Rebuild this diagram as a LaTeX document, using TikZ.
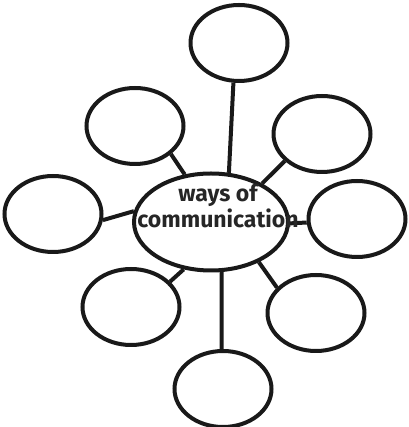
\documentclass[tikz,border=0pt]{standalone}
\usepackage{fontspec}
\setmainfont{Fira Sans}[Ligatures=NoCommon]
\usetikzlibrary{shapes.geometric}
\begin{document}
\begin{tikzpicture}[x=1pt,y=1pt,
  bubble/.style={ellipse,draw=black!90,line width=4pt,fill=white,inner sep=0pt,minimum width=97pt,minimum height=76pt},
  hub/.style={ellipse,draw=black!90,line width=4pt,fill=white,inner sep=0pt,minimum width=154pt,minimum height=97pt},
  link/.style={draw=black!90,line width=4pt},
  lbl/.style={inner sep=0pt,anchor=base,font=\bfseries\fontsize{23}{26}\selectfont,text=black!85}]
\useasboundingbox (0,0) rectangle (408,427);
\node[hub] (c) at (211,205) {};
\node[bubble] (t) at (239,384) {};
\node[bubble] (ul) at (135,301) {};
\node[bubble] (ur) at (322,293) {};
\node[bubble] (l) at (53,213) {};
\node[bubble] (r) at (357,208) {};
\node[bubble] (ll) at (131,120) {};
\node[bubble] (lr) at (316,114) {};
\node[bubble] (b) at (223,38) {};
\draw[link] (c.70) -- (t.262);
\draw[link] (c.119) -- (ul.322);
\draw[link] (c.37) -- (ur.216);
\draw[link] (c.172) -- (l.353);
\draw[link] (c.359) -- (r.184);
\draw[link] (c.240) -- (ll.33);
\draw[link] (c.282) -- (b.92);
\draw[link] (c.320) -- (lr.147);
\node[lbl] (w) at (218,225) {ways of};
\node[lbl] (cm) at (218,199) {communication};
\end{tikzpicture}
\end{document}
